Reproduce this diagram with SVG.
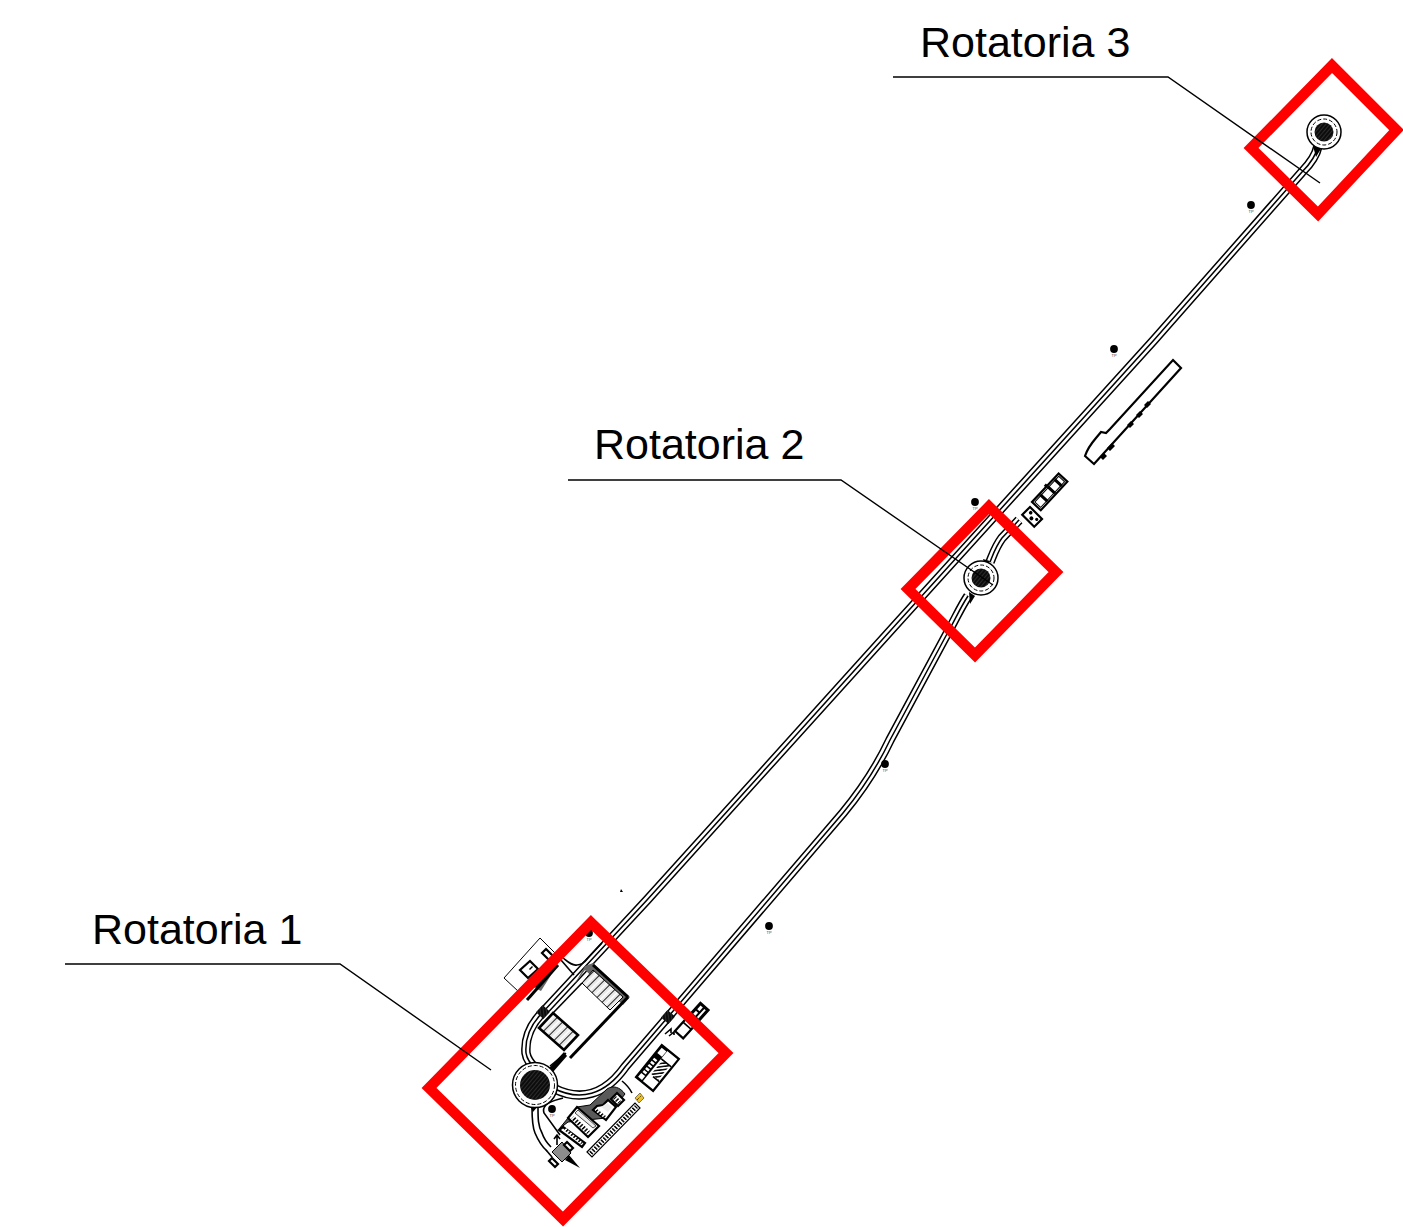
<svg xmlns="http://www.w3.org/2000/svg" width="1403" height="1227" viewBox="0 0 1403 1227">
<style>
.label{font-family:"Liberation Sans",Arial,sans-serif;font-size:43px;fill:#000}
.tp{font-family:"Liberation Sans",Arial,sans-serif;font-size:4px;fill:#444;text-anchor:middle}
.frame{fill:none;stroke:#f00;stroke-width:10.500;stroke-linejoin:miter}
.leader{fill:none;stroke:#000;stroke-width:1.4}
.ro{fill:none;stroke:#000;stroke-width:9.5}
.rw{fill:none;stroke:#fff;stroke-width:6.5}
.rc{fill:none;stroke:#000;stroke-width:1.5}
.thin{fill:none;stroke:#000;stroke-width:1}
.med{fill:none;stroke:#000;stroke-width:1.6}
.heavy{fill:none;stroke:#000;stroke-width:3}
.bld{fill:#fff;stroke:#000;stroke-width:2.2;stroke-linejoin:miter}
.wc{fill:#fff}
.k{fill:#000}
.g{fill:#666}
.dash{fill:none;stroke:#000;stroke-width:1;stroke-dasharray:4 2}
.ring{fill:#fff;stroke:#000;stroke-width:1.5}
.core{fill:url(#dark)}
</style>
<defs>
<pattern id="hatch" width="7" height="7" patternUnits="userSpaceOnUse" patternTransform="rotate(45)">
<rect width="7" height="7" fill="#e6e6e6"/><rect width="1" height="7" fill="#222"/><rect x="3.5" width="1.6" height="7" fill="#fff"/>
</pattern>
<pattern id="ticks" width="3.2" height="3.2" patternUnits="userSpaceOnUse" patternTransform="rotate(-46)">
<rect width="3.2" height="3.2" fill="#fff"/><rect width="1.5" height="3.2" fill="#000"/>
</pattern>
<pattern id="ticks2" width="3.2" height="3.2" patternUnits="userSpaceOnUse" patternTransform="rotate(46)">
<rect width="3.2" height="3.2" fill="#fff"/><rect width="1.5" height="3.2" fill="#000"/>
</pattern>
<pattern id="dark" width="3" height="3" patternUnits="userSpaceOnUse" patternTransform="rotate(40)">
<rect width="3" height="3" fill="#0c0c0c"/><rect width="0.7" height="3" fill="#3a3a3a"/>
</pattern>
<g id="tpmark"><circle r="3.9" class="k"/><text y="7.5" class="tp">TP</text></g>
</defs>

<g id="connectors">
<g id="road-main">
<path class="ro" d="M1318 146C1316 156 1310 164 1302 172L1154 340L900 620L647 900L543 1012C530 1025 525 1040 526 1053C527 1060 531 1064 535 1068"/>
<path class="rw" d="M1318 146C1316 156 1310 164 1302 172L1154 340L900 620L647 900L543 1012C530 1025 525 1040 526 1053C527 1060 531 1064 535 1068"/>
<path class="rc" d="M1318 146C1316 156 1310 164 1302 172L1154 340L900 620L647 900L543 1012C530 1025 525 1040 526 1053C527 1060 531 1064 535 1068"/>
</g>
<g id="road-south">
<path class="ro" d="M968 596C960 608 955 620 948 632L890 740Q872 778 843 813L668 1017L625 1067C605 1095 580 1102 553 1088"/>
<path class="rw" d="M968 596C960 608 955 620 948 632L890 740Q872 778 843 813L668 1017L625 1067C605 1095 580 1102 553 1088"/>
<path class="rc" d="M968 596C960 608 955 620 948 632L890 740Q872 778 843 813L668 1017L625 1067C605 1095 580 1102 553 1088"/>
</g>
<g id="road-spur">
<path class="ro" d="M990 562C994 552 996 546 1002 538L1019 520"/>
<path class="rw" d="M990 562C994 552 996 546 1002 538L1019 520"/>
<path class="rc" d="M990 562C994 552 996 546 1002 538L1019 520"/>
</g>
<g id="road-branches">
<path class="med" d="M563 958C568 962 572 966 577 965C581 965 585 962 588 958L602 943"/>
<path class="med" d="M561 960L574 975"/>
<path class="med" d="M550 1066L566 1053"/>
<path class="med" d="M532 1107C532 1118 532 1126 535 1133C538 1140 541 1146 547 1151"/>
<path class="med" d="M538 1108C538 1118 538 1126 542 1133C544 1139 547 1143 551 1147"/>
<path class="med" d="M563 1098C556 1100 550 1101 546 1105C543 1108 543 1110 544 1113L560 1135"/>
</g>
<g id="crossings">
<rect x="-5" y="-5" width="10" height="10" fill="url(#dark)" transform="translate(543 1012) rotate(-48)"/>
<rect x="-5" y="-5" width="10" height="10" fill="url(#dark)" transform="translate(668 1017) rotate(-49)"/>
</g>
</g>

<g id="tp-markers">
<use href="#tpmark" x="1251" y="205"/>
<use href="#tpmark" x="1114" y="349"/>
<use href="#tpmark" x="975" y="502"/>
<use href="#tpmark" x="885" y="764"/>
<use href="#tpmark" x="769" y="926"/>
<use href="#tpmark" x="589" y="933"/>
<use href="#tpmark" x="552" y="1109"/>
<path class="k" d="M621 889l2 3h-3z"/>
</g>

<g id="roundabout-3">
<path class="k" d="M1313 146L1322 147L1316 157Z"/>
<circle class="ring" cx="1324" cy="132" r="17"/>
<circle class="dash" cx="1324" cy="132" r="13"/>
<circle class="core" cx="1324" cy="132" r="9.5"/>
</g>
<g id="roundabout-2">
<path class="k" d="M983 559L990 561L986 569Z"/>
<path class="k" d="M969 592L975 596L970 604Z"/>
<circle class="ring" cx="981" cy="578" r="17"/>
<circle class="dash" cx="981" cy="578" r="13"/>
<circle class="core" cx="981" cy="578" r="9.5"/>
</g>
<g id="roundabout-1">
<path class="k" d="M549 1068L564 1052L567 1056L553 1072Z"/>
<path class="k" d="M530 1106L538 1106L533 1112Z"/>
<circle class="ring" cx="535" cy="1085" r="22.5"/>
<circle class="dash" cx="535" cy="1085" r="19.5"/>
<circle class="core" cx="535" cy="1085" r="15"/>
</g>

<g id="long-building">
<path class="bld" stroke-width="1.6" d="M1173 360L1181 368L1094 464L1085 456C1087 450 1090 445 1096 438L1101 432L1106 433L1110 429Z"/>
<path class="k" d="M1148 401l3 3-4 4-3-3zM1140 411l3 3-4 4-3-3zM1131 421l3 3-4 4-3-3zM1112 443l3 3-5 5-3-3zM1104 453l3 3-4 4-3-3z"/>
</g>
<g id="building-north">
<g transform="translate(1032 502) rotate(-47)">
<rect class="bld" width="39" height="12"/>
<rect class="thin" x="2" y="2" width="35" height="8"/>
<path class="heavy" stroke-width="2" d="M11 1V11M22 1V11M32 1V11"/>
<rect class="k" x="20" y="-2.5" width="3" height="3"/>
</g>
<g transform="translate(1030 507) rotate(45)">
<rect class="bld" stroke-width="2.6" width="17" height="11"/>
<circle class="k" cx="4.5" cy="3.5" r="1.8"/>
<circle class="k" cx="9" cy="7" r="2"/>
<circle class="k" cx="13.5" cy="4" r="1.6"/>
</g>
</g>
<g id="building-west">
<path fill="#fff" stroke="#000" stroke-width="1" d="M540 938L555 953L519 992L504 978Z"/>
<path class="g" d="M533 987L549 968L558 964L541 991Z"/>
<path class="heavy" stroke-width="3.5" d="M527 1000L558 965"/>
<path class="k" d="M534 985L548 970L551 973L537 988Z"/>
<path class="bld" stroke-width="3" d="M530 961L538 969L528 978L520 970Z"/>
<path class="k" d="M529 969l3-3 1 1-3 3z"/>
<path class="bld" stroke-width="1.4" d="M546 949L553 956L549 960L542 953Z"/>
</g>
<g id="parking-north">
<path class="g" d="M593 963L630 997L623 1005L585 970L574 985L585 966Z"/>
<path fill="url(#hatch)" stroke="#000" stroke-width="1" d="M593 970L623 997L610 1010L582 983Z"/>
<path fill="url(#hatch)" stroke="#000" stroke-width="2.6" d="M553 1013L578 1035L564 1050L539 1028Z"/>
<path class="heavy" stroke-width="3.5" d="M593 965L628 997"/>
<path class="heavy" d="M628 997L570 1058"/>
<path class="med" d="M582 983L553 1013"/>
</g>
<g id="parking-south">
<path class="med" d="M622 1081C627 1085 630 1089 632 1093"/>
<path fill="#5a5a5a" stroke="#000" stroke-width="1" d="M559 1129L577 1107L590 1105L607 1089C613 1085 620 1087 625 1094L618 1103L606 1118L568 1122Z"/>
<path class="bld" stroke-width="2" d="M577 1107L599 1126L588 1137L568 1118Z"/>
<path fill="url(#ticks2)" d="M571 1119L587 1134L590 1131L574 1116Z"/>
<path fill="#ececec" stroke="#000" stroke-width="0.7" d="M578 1110L596 1126L593 1128L575 1113Z"/>
<path class="bld" stroke-width="1.8" d="M608 1100L616 1107L606 1120L593 1110L597 1106L603 1105Z"/>
<path fill="url(#ticks2)" d="M595 1111L604 1118L606 1116L597 1109Z"/>
<path fill="#ececec" d="M601 1107L608 1112L612 1107L607 1103Z"/>
<path class="bld" stroke-width="1.6" d="M617 1093L624 1100L618 1106L611 1099Z"/>
<path fill="url(#ticks2)" d="M613 1099L618 1104L621 1101L616 1096Z"/>
<path class="bld" stroke-width="1.6" d="M563 1127L585 1143L582 1147L559 1130Z"/>
<path fill="url(#ticks2)" d="M564 1130L581 1144L583 1143L566 1128Z"/>
<path fill="#fff" stroke="#000" stroke-width="1.2" d="M587 1152L635 1103L640 1108L592 1157Z"/>
<path fill="url(#ticks)" d="M589 1152L635 1105L638 1108L592 1155Z"/>
<path fill="#f0c020" stroke="#333" stroke-width="0.6" d="M635 1098L640 1093L644 1098L639 1103Z"/>
<path class="thin" d="M637 1100L641 1096" stroke-dasharray="1 1"/>
</g>
<g id="gate-south">
<path fill="#8c8c8c" stroke="#000" stroke-width="1" d="M562 1142L571 1153L562 1162L552 1152Z"/>
<path class="k" d="M569 1155L580 1168L565 1160Z"/>
<path class="bld" stroke-width="1.2" d="M552 1158L558 1164L555 1167L549 1161Z"/>
<path class="bld" stroke-width="1.2" d="M567 1142L573 1148L570 1151L564 1145Z"/>
<path class="med" d="M557 1145L557 1136M554 1139L557 1135L560 1139"/>
<path class="med" d="M546 1150L552 1157"/>
</g>
<g id="building-east">
<g transform="translate(636 1077) rotate(-51)">
<rect class="bld" width="41" height="22" x="0" y="0"/>
<rect class="k" x="0" y="0" width="41" height="8"/>
<rect class="wc" x="1.5" y="1.5" width="5" height="5"/>
<rect class="wc" x="8" y="2" width="2.5" height="4"/>
<rect class="wc" x="12" y="2" width="2.5" height="4"/>
<rect class="wc" x="16" y="2" width="2.5" height="4"/>
<rect class="wc" x="20" y="2" width="2.5" height="4"/>
<rect class="wc" x="24" y="2" width="2.5" height="4"/>
<rect class="wc" x="32" y="1.5" width="7" height="6"/>
<rect class="wc" x="32" y="12" width="7" height="8"/>
<rect class="wc" x="2" y="14" width="9" height="6.5"/>
<rect x="12" y="10" width="18" height="9" fill="url(#ticks)"/>
<path class="med" d="M30 8V21M11 13V21"/>
</g>
</g>
<g id="building-northeast">
<g transform="translate(675 1031) rotate(-48)">
<rect class="bld" stroke-width="1.6" width="38" height="11"/>
<path class="med" d="M12 0V11"/>
<rect class="k" x="23" y="0" width="15" height="11"/>
<rect class="wc" x="25" y="2" width="4" height="3"/>
<rect class="wc" x="31" y="2" width="5" height="3"/>
<rect class="wc" x="25" y="7" width="11" height="2"/>
</g>
<path class="med" d="M665 1034l6-5v4"/>
<path class="med" d="M669 1036l5-4v3"/>
</g>

<g id="frames">
<path class="frame" d="M591 922.500L726 1053L563 1219L429 1088Z"/>
<path class="frame" d="M989 506.500L1056 572L975 655L908 589Z"/>
<path class="frame" d="M1332 65.500L1396.500 130L1318 214L1251 148Z"/>
</g>
<g id="leaders">
<path class="leader" d="M893 77H1168L1320 183"/>
<path class="leader" d="M568 480H841L993 585"/>
<path class="leader" d="M65 964H340L491 1070"/>
</g>
<g id="labels">
<text class="label" x="920" y="57">Rotatoria 3</text>
<text class="label" x="594" y="459">Rotatoria 2</text>
<text class="label" x="92" y="944">Rotatoria 1</text>
</g>
</svg>
